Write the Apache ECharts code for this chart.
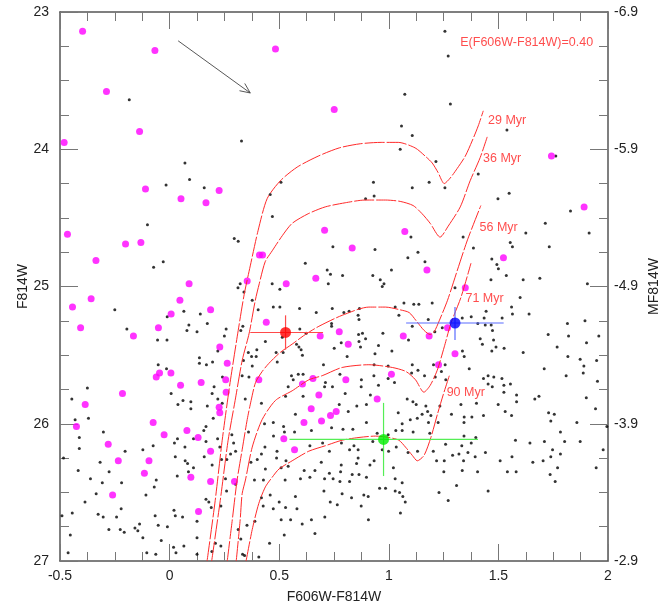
<!DOCTYPE html>
<html>
<head>
<meta charset="utf-8">
<title>CMD</title>
<script src="https://cdn.jsdelivr.net/npm/echarts@6/dist/echarts.min.js"></script>
<style>
  html, body { margin: 0; padding: 0; background: #fff; }
  #chart { width: 664px; height: 610px; }
</style>
</head>
<body>
<div id="chart"></div>
<script>
// field stars (black dots) [F606W-F814W, F814W]
var fieldStars = [
  [-0.184,23.64],[0.328,23.94],[0.070,24.10],[0.091,24.22],[-0.016,24.26],[0.158,24.28],[0.508,24.24],[0.459,24.33],
  [1.256,23.14],[1.271,23.32],[1.073,23.60],[1.281,23.67],[1.058,23.83],[1.107,23.90],[1.539,23.86],[1.052,24.00],[1.215,24.09],[1.762,24.05],[1.408,24.18],[0.930,24.24],[1.107,24.28],[1.184,24.24],[1.256,24.28],[0.894,24.36],[0.933,24.34],[1.498,24.36],[1.549,24.32],
  [-0.101,24.55],[-0.073,24.86],[-0.029,24.82],[0.295,24.65],[0.313,24.67],[0.322,24.98],[0.312,25.01],[-0.250,25.17],[0.065,25.18],[0.140,25.20],[-0.011,25.22],[0.088,25.28],[0.079,25.32],[0.125,25.33],[0.172,25.27],[0.258,25.31],[0.250,25.36],[0.325,25.32],[0.334,25.29],[-0.195,25.31],[-0.055,25.39],[-0.012,25.39],[0.220,25.47],[0.136,25.52],[0.136,25.56],[0.168,25.57],[0.196,25.55],[-0.052,25.57],[-0.014,25.60],[0.241,25.66],[0.331,25.65],
  [0.469,24.49],[0.745,24.71],[0.937,24.73],[1.101,24.64],[1.133,24.75],[1.087,24.79],[1.165,24.82],[0.619,24.83],[0.719,24.88],[0.734,24.91],[0.789,24.92],[0.927,24.92],[1.012,24.88],[0.961,24.95],[0.978,24.98],[0.970,25.00],[0.724,24.98],[0.468,24.98],[0.503,25.02],[0.339,25.04],[0.377,25.10],[0.473,25.15],[0.503,25.15],[0.404,25.17],[0.593,25.16],[0.669,25.19],[0.742,25.16],[0.795,25.19],[0.819,25.18],[0.866,25.16],[1.029,25.15],[1.069,25.12],[1.114,25.13],[1.137,25.13],[1.046,25.21],[0.860,25.21],[0.864,25.24],[0.739,25.27],[0.739,25.29],[0.594,25.31],[0.623,25.34],[0.862,25.35],[0.880,25.34],[0.894,25.38],[0.973,25.34],[1.107,25.29],[1.090,25.39],[0.437,25.40],[0.514,25.37],[0.579,25.42],[0.590,25.44],[0.600,25.46],[0.864,25.40],[0.871,25.44],[0.783,25.41],[0.953,25.43],[1.014,25.47],[0.359,25.48],[0.398,25.46],[0.374,25.51],[0.395,25.51],[0.486,25.48],[0.518,25.48],[0.606,25.50],[0.751,25.45],[0.810,25.51],[0.937,25.49],[0.491,25.55],[0.337,25.54],[0.377,25.58],[0.702,25.57],[0.933,25.57],[0.997,25.58],[1.107,25.57],[0.556,25.65],[0.587,25.64],[0.609,25.64],[0.362,25.66],[0.777,25.64],[0.932,25.65],[0.997,25.67],[1.104,25.63],[1.133,25.61],[1.163,25.65],[0.875,25.68],[0.564,25.68],
  [1.829,24.45],[1.714,24.54],[1.625,24.61],[1.914,24.61],[1.339,24.64],[1.554,24.68],[1.564,24.71],[1.732,24.71],[1.386,24.72],[1.470,24.80],[1.493,24.84],[1.500,24.87],[1.689,24.94],[1.613,24.95],[1.536,24.92],[1.466,24.95],[1.906,24.98],[1.302,25.01],[1.599,25.08],[1.560,25.15],[1.564,25.20],[1.640,25.20],[1.444,25.18],[1.376,25.22],[1.435,25.23],[1.517,25.23],[1.180,25.24],[1.335,25.23],[1.198,25.12],[1.406,25.27],[1.440,25.28],[1.467,25.28],[1.244,25.30],[1.210,25.33],[1.473,25.32],[1.417,25.38],[1.427,25.42],[1.478,25.39],[1.489,25.44],[1.470,25.47],[1.526,25.45],[1.613,25.48],[1.727,25.35],[1.768,25.44],[1.815,25.27],[1.820,25.36],[1.895,25.25],[1.902,25.41],[1.958,25.36],[1.336,25.47],[1.344,25.51],[1.817,25.51],[1.873,25.53],[1.890,25.58],[1.948,25.54],[1.204,25.57],[1.257,25.57],[1.240,25.62],[1.367,25.60],[1.709,25.60],[1.809,25.65],[1.887,25.63],[1.212,25.66],[1.260,25.68],[1.453,25.65],[1.432,25.67],[1.479,25.66],[1.516,25.67],[1.952,25.69],
  [-0.375,25.74],[-0.446,25.82],[-0.370,25.96],[-0.431,25.97],[-0.302,26.06],[-0.412,26.10],[-0.412,26.18],[-0.484,26.25],[-0.203,26.20],[-0.317,26.28],[-0.276,26.35],[-0.417,26.34],[-0.361,26.40],[-0.307,26.43],[-0.219,26.43],[-0.335,26.51],[-0.386,26.57],[-0.491,26.67],[-0.444,26.65],[-0.326,26.66],[-0.303,26.68],[-0.242,26.68],[-0.221,26.62],[-0.277,26.77],[-0.225,26.77],[-0.207,26.79],[-0.158,26.76],[-0.137,26.73],[-0.145,26.78],[-0.122,26.83],[-0.453,26.81],[-0.463,26.94],[-0.104,26.94],[-0.063,26.95],[-0.038,26.85],[-0.052,26.74],[-0.066,26.67],[-0.010,26.75],[0.020,26.63],[0.026,26.67],[0.059,26.68],[0.018,26.90],[0.029,26.94],[0.065,26.89],[0.125,26.83],[0.125,26.71],[0.166,26.55],[0.179,26.57],[-0.108,26.52],[-0.070,26.46],[-0.122,26.19],[-0.075,26.16],[-0.061,26.41],[0.026,26.24],[0.035,26.38],[0.071,26.27],[0.082,26.29],[0.086,26.35],[0.109,26.32],[0.070,26.17],[0.022,26.14],[0.036,26.11],[0.109,26.11],[0.156,26.05],[0.166,26.02],[0.166,26.13],[0.219,26.11],[0.229,26.17],[0.158,26.24],[0.194,26.30],[0.237,26.26],[0.261,26.26],[0.255,26.40],[0.260,26.49],[0.190,26.61],[0.234,26.60],[0.007,25.78],[0.038,25.86],[0.061,25.83],[0.097,25.84],[0.097,25.89],[0.172,25.87],[0.203,25.73],[0.194,25.78],[0.220,25.82],[0.240,25.85],[0.199,25.96],[0.284,26.08],[0.292,26.14],[0.301,26.20],[0.278,26.22],[0.193,26.93],[0.209,26.87],[0.234,26.89],[0.125,26.95],[0.313,26.77],[0.301,26.44],[0.333,26.95],[0.325,26.84],
  [0.345,25.82],[0.419,25.85],[0.529,25.80],[0.541,25.73],[0.609,25.80],[0.707,25.73],[0.711,25.70],[0.743,25.73],[0.774,25.86],[0.801,25.78],[0.854,25.87],[0.874,25.73],[0.898,25.86],[0.916,25.79],[0.953,25.72],[1.026,25.70],[1.084,25.82],[1.110,25.84],[1.125,25.86],[1.152,25.93],[1.098,25.97],[1.130,25.96],[1.061,26.00],[1.043,25.92],[0.898,25.99],[0.815,25.91],[0.574,25.93],[0.473,25.99],[0.433,26.00],[0.520,26.02],[0.524,26.06],[0.570,26.06],[0.474,26.09],[0.647,26.05],[0.739,26.03],[0.791,26.04],[0.836,26.04],[0.360,26.06],[0.947,26.07],[0.997,26.08],[1.032,26.05],[1.061,26.05],[1.111,26.06],[1.034,26.17],[0.999,26.20],[0.970,26.19],[1.131,26.20],[1.088,26.21],[0.860,26.19],[0.841,26.16],[0.927,26.13],[0.821,26.19],[0.784,26.14],[0.698,26.14],[0.729,26.20],[0.640,26.16],[0.435,26.17],[0.419,26.22],[0.490,26.20],[0.488,26.25],[0.531,26.27],[0.400,26.26],[0.371,26.28],[0.437,26.33],[0.509,26.32],[0.541,26.31],[0.692,26.28],[0.783,26.30],[0.860,26.25],[0.853,26.29],[0.914,26.30],[0.933,26.27],[1.021,26.32],[0.663,26.34],[0.780,26.35],[0.833,26.37],[0.864,26.37],[0.729,26.36],[0.614,26.34],[0.707,26.40],[0.640,26.39],[0.597,26.40],[0.746,26.40],[0.777,26.42],[0.821,26.42],[0.898,26.39],[0.387,26.41],[0.428,26.41],[0.527,26.41],[0.958,26.47],[0.985,26.47],[1.029,26.40],[1.061,26.43],[1.029,26.49],[1.049,26.50],[1.064,26.53],[0.704,26.49],[0.787,26.51],[0.830,26.54],[0.886,26.52],[0.906,26.53],[0.574,26.53],[0.459,26.52],[0.500,26.57],[0.419,26.54],[0.733,26.57],[0.765,26.59],[0.874,26.60],[1.075,26.57],[0.581,26.62],[0.427,26.60],[0.529,26.61],[0.473,26.62],[1.053,26.65],[0.708,26.68],[0.907,26.70],[0.509,26.70],[0.552,26.70],[0.605,26.73],[0.647,26.70],[0.353,26.74],[0.389,26.71],[0.663,26.80],[0.523,26.81],[0.456,26.87],[0.342,26.96],[0.407,26.97],
  [1.453,25.71],[1.472,25.73],[1.525,25.72],[1.555,25.71],[1.525,25.77],[1.583,25.79],[1.583,25.84],[1.666,25.82],[1.685,25.80],[1.901,25.81],[1.169,25.87],[1.177,25.91],[1.233,25.87],[1.329,25.86],[1.400,25.85],[1.499,25.86],[1.531,25.91],[1.560,25.94],[1.432,25.94],[1.379,25.95],[1.344,25.95],[1.343,25.99],[1.286,25.93],[1.192,25.94],[1.225,25.99],[1.181,25.99],[1.187,26.07],[1.729,25.92],[1.755,25.93],[1.739,25.98],[1.858,25.99],[1.943,25.89],[1.995,26.02],[1.783,26.06],[1.802,26.13],[1.710,26.13],[1.644,26.14],[1.578,26.12],[1.873,26.13],[1.747,26.19],[1.739,26.24],[1.783,26.22],[1.704,26.27],[1.657,26.28],[1.770,26.32],[1.946,26.32],[1.978,26.19],[1.343,26.09],[1.397,26.10],[1.376,26.14],[1.333,26.16],[1.259,26.15],[1.203,26.20],[1.291,26.23],[1.320,26.22],[1.361,26.21],[1.394,26.24],[1.441,26.21],[1.341,26.27],[1.253,26.27],[1.218,26.27],[1.508,26.27],[1.562,26.24],[1.251,26.35],[1.335,26.34],[1.405,26.35],[1.541,26.35],[1.581,26.35],[1.736,26.37],[1.759,26.42],[1.309,26.45],[1.229,26.50],[1.271,26.56],[1.453,26.49]
];

// cluster candidates (magenta)
var clusterStars = [
  [-0.397,23.14],[-0.067,23.28],[0.483,23.27],[-0.288,23.58],[-0.137,23.87],[-0.481,23.95],[0.751,23.71],[1.742,24.05],[-0.110,24.29],[0.052,24.36],[0.226,24.30],[0.166,24.39],[1.891,24.42],[1.523,24.79],[1.174,24.88],[1.349,25.01],[1.268,25.30],[1.184,25.36],[1.302,25.49],[1.227,25.57],
  [0.707,24.59],[1.073,24.60],[0.833,24.72],[0.410,24.77],[0.424,24.77],[0.354,24.96],[0.532,24.98],[0.667,24.94],[0.441,25.26],[0.687,25.36],[0.774,25.33],[0.815,25.42],[1.066,25.36],[1.012,25.64],[0.654,25.67],[0.407,25.68],[0.804,25.68],
  [-0.466,24.62],[-0.201,24.69],[-0.131,24.68],[-0.336,24.81],[0.089,24.98],[-0.358,25.09],[0.047,25.10],[-0.443,25.15],[0.187,25.17],[0.007,25.20],[-0.406,25.30],[-0.051,25.30],[-0.165,25.36],[0.229,25.44],[0.263,25.56],[-0.061,25.66],[-0.046,25.63],[0.006,25.63],[0.144,25.70],[0.256,25.68],
  [0.050,25.72],[-0.215,25.78],[0.258,25.77],[-0.385,25.86],[0.226,25.88],[0.229,25.92],[-0.075,25.99],[-0.425,26.02],[0.079,26.05],[-0.025,26.08],[0.130,26.10],[-0.280,26.15],[0.187,26.20],[-0.234,26.27],[-0.094,26.27],[-0.115,26.36],[0.097,26.39],[0.187,26.42],[0.296,26.42],[-0.260,26.52],[0.132,26.64],
  [0.606,25.71],[0.681,25.79],[0.947,25.82],[0.646,25.89],[0.760,25.91],[0.734,25.94],[0.613,25.99],[0.693,25.98],[0.521,26.11],[0.570,26.19]
];

// isochrones
var iso29 = [[0.171,27.0],[0.208,26.56],[0.240,26.12],[0.276,25.70],[0.313,25.32],[0.340,25.06],[0.368,24.85],[0.404,24.59],[0.445,24.36],[0.505,24.23],[0.582,24.13],[0.678,24.05],[0.774,23.99],[0.870,23.96],[0.965,23.95],[1.043,23.95],[1.120,23.99],[1.166,24.05],[1.198,24.10],[1.225,24.17],[1.253,24.25],[1.280,24.21],[1.312,24.14],[1.349,24.05],[1.380,23.94],[1.408,23.83],[1.431,23.72]];
var iso36 = [[0.192,27.0],[0.231,26.56],[0.267,26.12],[0.299,25.83],[0.331,25.54],[0.363,25.34],[0.391,25.10],[0.409,24.98],[0.436,24.82],[0.468,24.74],[0.514,24.63],[0.559,24.54],[0.632,24.47],[0.710,24.42],[0.801,24.39],[0.892,24.37],[0.984,24.37],[1.052,24.38],[1.111,24.41],[1.152,24.47],[1.189,24.54],[1.234,24.64],[1.271,24.56],[1.326,24.42],[1.371,24.23],[1.417,24.06],[1.449,23.91]];
var iso56 = [[0.263,27.0],[0.286,26.70],[0.308,26.41],[0.331,26.19],[0.354,25.97],[0.372,25.83],[0.392,25.70],[0.422,25.62],[0.453,25.56],[0.505,25.48],[0.559,25.42],[0.619,25.35],[0.681,25.29],[0.787,25.21],[0.909,25.15],[0.985,25.15],[1.052,25.17],[1.093,25.19],[1.130,25.26],[1.161,25.32],[1.189,25.35],[1.207,25.33],[1.230,25.25],[1.268,25.10],[1.313,24.88],[1.359,24.66],[1.420,24.41]];
var iso71 = [[0.304,27.0],[0.322,26.70],[0.331,26.51],[0.346,26.41],[0.377,26.17],[0.422,25.97],[0.483,25.83],[0.559,25.76],[0.635,25.68],[0.696,25.65],[0.787,25.59],[0.909,25.57],[1.016,25.59],[1.079,25.62],[1.122,25.68],[1.160,25.77],[1.189,25.72],[1.221,25.61],[1.253,25.44],[1.283,25.27],[1.329,25.08],[1.375,24.83]];
var iso90 = [[0.349,27.0],[0.377,26.77],[0.407,26.58],[0.437,26.46],[0.468,26.39],[0.499,26.33],[0.559,26.27],[0.635,26.20],[0.711,26.16],[0.787,26.12],[0.864,26.10],[0.939,26.09],[1.000,26.10],[1.046,26.12],[1.076,26.17],[1.107,26.23],[1.130,26.27],[1.161,26.23],[1.192,26.10],[1.222,25.93],[1.248,25.79],[1.276,25.65]];
var isoNames = ['29 Myr', '36 Myr', '56 Myr', '71 Myr', '90 Myr'];
var isoLabelPos = [[1.540,23.79],[1.517,24.07],[1.501,24.57],[1.437,25.09],[1.351,25.77]];

// mean points with error bars: [x, y, xlo, xhi, ylo, yhi]
var meanPoints = [
  [0.529, 25.335, 0.368, 0.700, 25.21, 25.46],
  [1.302, 25.266, 1.079, 1.524, 25.149, 25.39],
  [0.976, 26.114, 0.547, 1.407, 25.848, 26.381]
];
// reddening vector
var reddeningArrow = [[0.039, 23.21, 0.368, 23.59]];
var reddeningText = 'E(F606W-F814W)=0.40';
var reddeningTextPos = [1.629, 23.22];

var dotColors = ['#ff0000', '#0000ff', '#00ee00'];
var barColors = ['#ff4a4a', '#5a6cff', '#55ee55'];

var chart = echarts.init(document.getElementById('chart'), null, {renderer: 'canvas'});

var fontFamily = 'Liberation Sans, Arial, sans-serif';

function xAxisCfg (pos, showLabel) {
    return {
        type: 'value',
        position: pos,
        min: -0.5,
        max: 2,
        interval: 0.5,
        name: showLabel ? 'F606W-F814W' : '',
        nameLocation: 'middle',
        nameGap: 29,
        nameMoveOverlap: false,
        nameTextStyle: {color: '#222', fontSize: 14, fontFamily: fontFamily},
        axisLine: {show: true, onZero: false, lineStyle: {color: '#555', width: 1.5}},
        axisTick: {show: true, inside: true, length: 17, lineStyle: {color: '#777', width: 1}},
        minorTick: {show: true, splitNumber: 4, length: 9, lineStyle: {color: '#777', width: 1}},
        axisLabel: {show: showLabel, color: '#222', fontSize: 14, fontFamily: fontFamily, margin: 8},
        splitLine: {show: false},
        minorSplitLine: {show: false}
    };
}

function yAxisCfg (pos, min, max, name, gap, fmt) {
    return {
        type: 'value',
        position: pos,
        inverse: true,
        min: min,
        max: max,
        interval: 1,
        name: name,
        nameLocation: 'middle',
        nameGap: gap,
        nameMoveOverlap: false,
        nameTextStyle: {color: '#222', fontSize: 14, fontFamily: fontFamily},
        axisLine: {show: true, onZero: false, lineStyle: {color: '#555', width: 1.5}},
        axisTick: {show: true, inside: true, length: 18, lineStyle: {color: '#777', width: 1}},
        minorTick: {show: true, splitNumber: 4, length: 9, lineStyle: {color: '#777', width: 1}},
        axisLabel: {color: '#222', fontSize: 14, fontFamily: fontFamily, margin: pos === 'left' ? 11 : 6, formatter: fmt},
        splitLine: {show: false},
        minorSplitLine: {show: false}
    };
}

var isoSeries = [iso29, iso36, iso56, iso71, iso90].map(function (d, i) {
    return {
        name: isoNames[i],
        type: 'line',
        data: d,
        showSymbol: false,
        smooth: 0.25,
        silent: true,
        z: 4,
        lineStyle: {color: '#ff2a2a', width: 1, type: [20, 2]}
    };
});

var labelData = isoLabelPos.map(function (p, i) {
    return [p[0], p[1], isoNames[i]];
});
labelData.push([reddeningTextPos[0], reddeningTextPos[1], reddeningText]);

chart.setOption({
    animation: false,
    backgroundColor: '#fff',
    textStyle: {fontFamily: fontFamily},
    grid: {left: 60, right: 56, top: 12, bottom: 49, containLabel: false, outerBoundsMode: 'none'},
    xAxis: [xAxisCfg('bottom', true), xAxisCfg('top', false)],
    yAxis: [
        yAxisCfg('left', 23, 27, 'F814W', 30, function (v) { return String(Math.round(v)); }),
        yAxisCfg('right', -6.9, -2.9, 'MF814W', 39, function (v) { return v.toFixed(1); })
    ],
    series: [
        {
            name: 'field',
            type: 'scatter',
            data: fieldStars,
            symbolSize: 3,
            silent: true,
            z: 2,
            itemStyle: {color: '#000'}
        },
        {
            name: 'cluster',
            type: 'scatter',
            data: clusterStars,
            symbolSize: 7,
            silent: true,
            z: 3,
            itemStyle: {color: '#ff00ff'}
        }
    ].concat(isoSeries).concat([
        {
            name: 'errorbars',
            type: 'custom',
            silent: true,
            z: 5,
            data: meanPoints,
            encode: {x: [0, 2, 3], y: [1, 4, 5]},
            renderItem: function (params, api) {
                var i = params.dataIndex;
                var c = api.coord([api.value(0), api.value(1)]);
                var xl = api.coord([api.value(2), api.value(1)]);
                var xh = api.coord([api.value(3), api.value(1)]);
                var yl = api.coord([api.value(0), api.value(4)]);
                var yh = api.coord([api.value(0), api.value(5)]);
                var st = {stroke: barColors[i], lineWidth: 1.2};
                return {
                    type: 'group',
                    children: [
                        {type: 'line', shape: {x1: xl[0], y1: c[1], x2: xh[0], y2: c[1]}, style: st},
                        {type: 'line', shape: {x1: c[0], y1: yl[1], x2: c[0], y2: yh[1]}, style: st}
                    ]
                };
            }
        },
        {
            name: 'means',
            type: 'scatter',
            silent: true,
            z: 6,
            symbolSize: 11,
            data: meanPoints.map(function (p, i) {
                return {value: [p[0], p[1]], itemStyle: {color: dotColors[i]}};
            })
        },
        {
            name: 'arrow',
            type: 'custom',
            silent: true,
            z: 5,
            data: reddeningArrow,
            encode: {x: [0, 2], y: [1, 3]},
            renderItem: function (params, api) {
                var a = api.coord([api.value(0), api.value(1)]);
                var b = api.coord([api.value(2), api.value(3)]);
                var ang = Math.atan2(b[1] - a[1], b[0] - a[0]);
                var len = 11, spread = 0.42;
                var p1 = [b[0] - len * Math.cos(ang - spread), b[1] - len * Math.sin(ang - spread)];
                var p2 = [b[0] - len * Math.cos(ang + spread), b[1] - len * Math.sin(ang + spread)];
                var st = {stroke: '#444', lineWidth: 0.9, fill: null};
                return {
                    type: 'group',
                    children: [
                        {type: 'line', shape: {x1: a[0], y1: a[1], x2: b[0], y2: b[1]}, style: st},
                        {type: 'polyline', shape: {points: [p1, b, p2]}, style: st}
                    ]
                };
            }
        },
        {
            name: 'labels',
            type: 'scatter',
            silent: true,
            z: 7,
            symbolSize: 0,
            data: labelData,
            label: {
                show: true,
                position: 'inside',
                color: '#ff2020',
                fontSize: 12.5,
                fontFamily: fontFamily,
                formatter: function (p) { return p.value[2]; }
            }
        }
    ])
});
</script>
</body>
</html>
